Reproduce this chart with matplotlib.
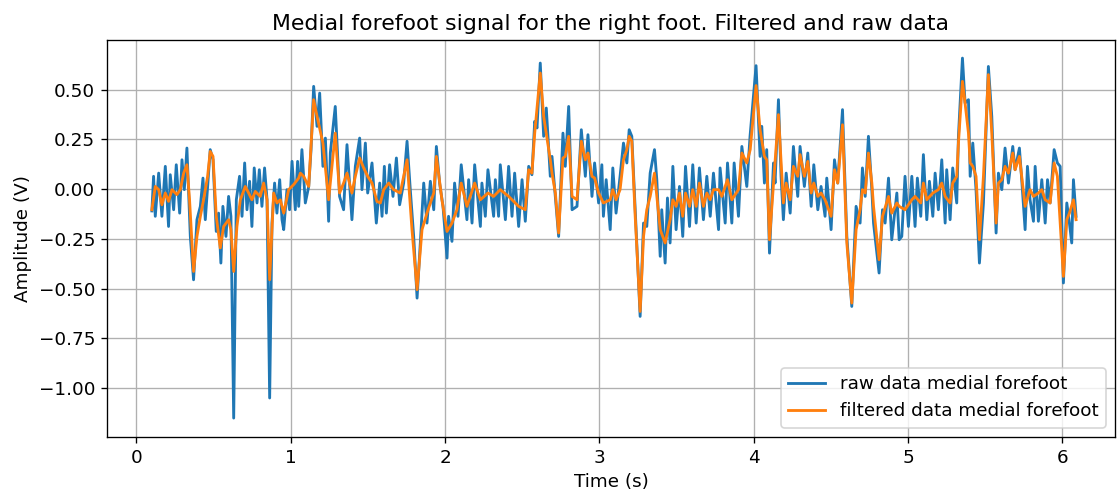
import matplotlib

matplotlib.use("Agg")
import matplotlib.pyplot as plt

# raw medial forefoot signal (s, V)
raw_time = [
    0.101, 0.112, 0.123, 0.145, 0.166, 0.188, 0.209, 0.220, 0.242, 0.259,
    0.281, 0.296, 0.311, 0.328, 0.350, 0.371, 0.393, 0.415, 0.432, 0.447,
    0.479, 0.497, 0.518, 0.533, 0.548, 0.561, 0.581, 0.598, 0.613, 0.631,
    0.648, 0.669, 0.685, 0.702, 0.717, 0.734, 0.749, 0.764, 0.782, 0.797,
    0.814, 0.831, 0.847, 0.864, 0.879, 0.896, 0.911, 0.929, 0.944, 0.955,
    0.976, 0.993, 1.009, 1.030, 1.045, 1.052, 1.073, 1.095, 1.117, 1.132,
    1.149, 1.171, 1.188, 1.209, 1.225, 1.246, 1.257, 1.289, 1.317, 1.343,
    1.365, 1.397, 1.419, 1.447, 1.462, 1.484, 1.499, 1.527, 1.555, 1.577,
    1.592, 1.607, 1.620, 1.641, 1.663, 1.685, 1.706, 1.732, 1.754, 1.775,
    1.797, 1.819, 1.840, 1.862, 1.883, 1.905, 1.927, 1.944, 1.965, 1.987,
    2.013, 2.023, 2.045, 2.062, 2.084, 2.105, 2.142, 2.153, 2.175, 2.192,
    2.229, 2.239, 2.261, 2.278, 2.315, 2.326, 2.347, 2.358, 2.391, 2.412,
    2.434, 2.451, 2.477, 2.499, 2.520, 2.542, 2.563, 2.581, 2.596, 2.617,
    2.639, 2.656, 2.682, 2.693, 2.736, 2.764, 2.779, 2.801, 2.823, 2.855,
    2.883, 2.909, 2.926, 2.952, 2.969, 2.995, 3.016, 3.026, 3.044, 3.070,
    3.087, 3.108, 3.134, 3.156, 3.178, 3.193, 3.210, 3.232, 3.264, 3.286,
    3.307, 3.329, 3.357, 3.372, 3.394, 3.404, 3.426, 3.441, 3.458, 3.476,
    3.497, 3.519, 3.540, 3.558, 3.584, 3.605, 3.627, 3.648, 3.674, 3.696,
    3.718, 3.739, 3.772, 3.782, 3.815, 3.830, 3.858, 3.873, 3.901, 3.923,
    3.955, 3.976, 4.015, 4.041, 4.052, 4.069, 4.084, 4.102, 4.128, 4.138,
    4.160, 4.177, 4.192, 4.210, 4.236, 4.257, 4.285, 4.300, 4.328, 4.350,
    4.372, 4.389, 4.415, 4.436, 4.462, 4.473, 4.501, 4.523, 4.544, 4.575,
    4.603, 4.635, 4.663, 4.689, 4.704, 4.722, 4.743, 4.765, 4.776, 4.812,
    4.834, 4.851, 4.873, 4.894, 4.927, 4.942, 4.959, 4.980, 5.002, 5.024,
    5.045, 5.060, 5.082, 5.099, 5.121, 5.138, 5.160, 5.175, 5.196, 5.218,
    5.240, 5.250, 5.272, 5.289, 5.315, 5.326, 5.352, 5.369, 5.391, 5.402,
    5.419, 5.440, 5.462, 5.488, 5.520, 5.542, 5.570, 5.585, 5.607, 5.628,
    5.650, 5.678, 5.693, 5.721, 5.736, 5.758, 5.773, 5.790, 5.812, 5.823,
    5.844, 5.866, 5.888, 5.903, 5.920, 5.946, 5.967, 5.985, 6.006, 6.028,
    6.045, 6.060, 6.071, 6.088,
]
raw_amp = [
    -0.110, 0.064, -0.137, 0.080, -0.137, 0.114, -0.188, 0.072, -0.104, 0.122,
    -0.121, 0.147, -0.003, 0.206, -0.238, -0.456, -0.154, -0.087, 0.055, -0.154,
    0.198, 0.147, -0.213, -0.121, -0.372, -0.087, -0.238, -0.037, -0.137, -1.151,
    -0.054, 0.064, -0.137, 0.131, -0.104, 0.039, -0.188, 0.106, -0.070, 0.097,
    -0.087, 0.106, -0.054, -1.050, -0.171, 0.030, -0.121, 0.047, -0.154, -0.204,
    -0.003, -0.104, 0.139, -0.104, 0.139, -0.087, 0.198, -0.070, 0.013, 0.198,
    0.516, 0.315, 0.482, 0.114, 0.256, -0.162, 0.181, 0.415, -0.037, -0.104,
    0.223, -0.154, 0.114, 0.256, -0.003, 0.231, -0.020, 0.131, -0.171, 0.030,
    -0.137, 0.114, -0.121, 0.122, -0.037, 0.156, -0.079, 0.030, 0.240, -0.003,
    -0.238, -0.548, -0.271, 0.030, -0.171, 0.039, -0.104, 0.214, 0.030, -0.087,
    -0.347, -0.137, -0.263, 0.030, -0.137, 0.122, -0.154, 0.047, -0.171, 0.122,
    -0.188, 0.030, -0.137, 0.097, -0.137, 0.047, -0.137, 0.122, -0.154, 0.114,
    -0.137, 0.080, -0.188, 0.047, -0.162, 0.114, 0.072, 0.340, 0.307, 0.633,
    0.265, 0.407, 0.064, 0.164, -0.238, 0.281, 0.114, 0.415, -0.104, -0.087,
    0.298, 0.064, 0.273, -0.037, 0.131, -0.070, 0.122, -0.137, 0.047, -0.204,
    0.106, -0.121, 0.064, 0.231, 0.131, 0.298, 0.265, -0.104, -0.640, -0.171,
    -0.188, 0.080, 0.198, 0.047, -0.338, -0.104, -0.372, -0.045, -0.271, 0.114,
    -0.204, 0.013, -0.238, 0.114, -0.188, 0.122, -0.171, 0.106, -0.154, 0.064,
    -0.137, 0.080, -0.204, 0.106, -0.171, 0.131, -0.171, 0.131, -0.137, 0.214,
    0.013, 0.265, 0.620, 0.164, 0.315, 0.030, 0.198, -0.322, 0.131, 0.030,
    0.449, 0.064, -0.154, 0.080, -0.121, 0.214, -0.037, 0.214, 0.013, 0.181,
    -0.087, 0.122, -0.104, 0.013, -0.137, 0.055, -0.204, 0.147, 0.030, 0.399,
    -0.238, -0.590, -0.087, -0.171, 0.106, -0.037, 0.265, -0.003, -0.171, -0.422,
    -0.104, -0.171, 0.055, -0.255, -0.020, -0.255, -0.238, 0.064, -0.188, 0.064,
    -0.188, 0.055, -0.137, 0.173, -0.154, 0.039, -0.137, 0.080, -0.104, 0.147,
    -0.171, 0.097, -0.154, 0.106, -0.070, 0.265, 0.658, 0.432, 0.449, 0.064,
    0.231, -0.003, -0.372, -0.070, 0.616, 0.365, -0.221, 0.080, -0.003, 0.206,
    0.030, 0.214, 0.097, 0.206, 0.047, -0.204, 0.114, -0.054, -0.162, 0.114,
    -0.162, 0.047, -0.171, 0.047, -0.070, 0.198, 0.131, 0.114, -0.472, -0.070,
    -0.171, -0.271, 0.047, -0.137,
]

# filtered medial forefoot signal (s, V)
filt_time = [
    0.101, 0.123, 0.145, 0.166, 0.188, 0.209, 0.231, 0.263, 0.285, 0.307,
    0.328, 0.345, 0.371, 0.393, 0.415, 0.436, 0.462, 0.479, 0.497, 0.518,
    0.544, 0.566, 0.598, 0.613, 0.631, 0.652, 0.674, 0.706, 0.728, 0.749,
    0.771, 0.803, 0.825, 0.847, 0.864, 0.890, 0.911, 0.933, 0.955, 0.987,
    1.019, 1.052, 1.063, 1.084, 1.117, 1.149, 1.171, 1.209, 1.246, 1.289,
    1.317, 1.343, 1.365, 1.397, 1.419, 1.447, 1.473, 1.499, 1.527, 1.559,
    1.581, 1.603, 1.635, 1.667, 1.710, 1.754, 1.786, 1.819, 1.851, 1.883,
    1.927, 1.944, 1.980, 2.013, 2.045, 2.077, 2.105, 2.142, 2.192, 2.229,
    2.278, 2.315, 2.358, 2.412, 2.477, 2.520, 2.542, 2.563, 2.581, 2.617,
    2.639, 2.682, 2.693, 2.715, 2.736, 2.764, 2.779, 2.801, 2.823, 2.855,
    2.883, 2.909, 2.926, 2.952, 2.969, 2.995, 3.026, 3.070, 3.087, 3.108,
    3.134, 3.156, 3.178, 3.193, 3.210, 3.232, 3.264, 3.286, 3.307, 3.329,
    3.357, 3.394, 3.426, 3.458, 3.476, 3.497, 3.519, 3.540, 3.558, 3.584,
    3.605, 3.627, 3.648, 3.674, 3.696, 3.718, 3.739, 3.772, 3.793, 3.830,
    3.858, 3.901, 3.923, 3.955, 3.977, 4.015, 4.041, 4.069, 4.084, 4.102,
    4.128, 4.160, 4.192, 4.210, 4.236, 4.257, 4.285, 4.300, 4.328, 4.350,
    4.372, 4.389, 4.415, 4.436, 4.462, 4.501, 4.523, 4.544, 4.575, 4.603,
    4.635, 4.663, 4.689, 4.704, 4.722, 4.743, 4.765, 4.776, 4.812, 4.834,
    4.873, 4.894, 4.927, 4.942, 4.980, 5.024, 5.045, 5.082, 5.099, 5.121,
    5.160, 5.196, 5.218, 5.240, 5.272, 5.289, 5.315, 5.326, 5.352, 5.369,
    5.391, 5.402, 5.419, 5.440, 5.462, 5.488, 5.520, 5.542, 5.570, 5.585,
    5.607, 5.628, 5.650, 5.678, 5.693, 5.721, 5.758, 5.790, 5.812, 5.844,
    5.866, 5.888, 5.920, 5.946, 5.967, 6.006, 6.028, 6.045, 6.071, 6.088,
]
filt_amp = [
    -0.104, 0.013, -0.003, -0.079, -0.020, -0.062, -0.003, -0.028, -0.003, 0.080,
    0.122, -0.054, -0.414, -0.238, -0.137, -0.054, 0.064, 0.189, 0.164, -0.137,
    -0.296, -0.188, -0.154, -0.204, -0.414, -0.188, -0.054, 0.013, -0.020, -0.054,
    -0.012, -0.037, 0.030, -0.054, -0.456, -0.020, -0.070, -0.054, -0.121, -0.003,
    0.022, 0.055, 0.080, 0.064, 0.013, 0.449, 0.365, 0.231, -0.054, 0.281,
    -0.020, 0.030, 0.080, -0.020, 0.064, 0.156, 0.106, 0.064, 0.030, -0.062,
    -0.070, -0.003, 0.030, -0.003, -0.020, 0.147, -0.204, -0.506, -0.204, -0.121,
    -0.020, 0.164, -0.054, -0.213, -0.171, -0.104, 0.030, -0.087, 0.030, -0.054,
    -0.020, -0.037, -0.003, -0.037, -0.087, -0.104, 0.097, 0.080, 0.281, 0.583,
    0.365, 0.147, 0.080, -0.020, -0.221, 0.156, 0.164, 0.265, -0.037, -0.054,
    0.240, 0.147, 0.181, 0.064, 0.055, -0.020, -0.070, -0.054, -0.003, -0.054,
    -0.003, 0.147, 0.198, 0.265, 0.240, -0.137, -0.615, -0.238, -0.104, -0.037,
    0.080, -0.204, -0.271, -0.154, -0.054, -0.087, -0.020, -0.137, -0.020, -0.087,
    -0.003, -0.087, 0.030, -0.087, -0.020, -0.054, -0.003, -0.003, -0.037, 0.047,
    -0.054, -0.003, 0.181, 0.131, 0.198, 0.520, 0.298, 0.164, 0.147, -0.255,
    0.030, 0.374, -0.070, 0.030, -0.054, 0.114, 0.064, 0.173, 0.064, 0.139,
    -0.020, 0.030, -0.037, -0.020, -0.054, -0.137, 0.097, 0.030, 0.323, -0.271,
    -0.573, -0.204, -0.104, -0.003, -0.020, 0.181, 0.030, -0.087, -0.355, -0.137,
    -0.037, -0.121, -0.070, -0.087, -0.104, -0.054, -0.037, -0.070, 0.030, -0.054,
    -0.020, -0.003, 0.030, -0.037, -0.070, 0.030, 0.064, 0.231, 0.541, 0.432,
    0.281, 0.131, 0.114, 0.064, -0.255, 0.064, 0.575, 0.281, -0.171, 0.030,
    0.047, 0.114, 0.080, 0.181, 0.097, 0.164, -0.087, -0.003, -0.037, -0.020,
    -0.003, -0.054, -0.070, 0.131, 0.064, -0.439, -0.154, -0.121, -0.054, -0.154,
]

plt.rcParams.update({
    "font.size": 11,
    "axes.titlesize": 13.2,
    "axes.labelsize": 11,
    "xtick.labelsize": 11,
    "ytick.labelsize": 11,
    "legend.fontsize": 11,
})

fig = plt.figure(figsize=(1120 / 120, 498 / 120), dpi=120)
ax = fig.add_axes([0.0955, 0.1225, 0.9, 0.7972])

ax.plot(raw_time, raw_amp, linewidth=1.7, label="raw data medial forefoot")
ax.plot(filt_time, filt_amp, linewidth=1.7, label="filtered data medial forefoot")

ax.set_xlim(-0.19, 6.34)
ax.set_ylim(-1.246, 0.749)
ax.set_title("Medial forefoot signal for the right foot. Filtered and raw data")
ax.set_xlabel("Time (s)")
ax.set_ylabel("Amplitude (V)")
ax.grid(True)
ax.legend(loc="lower right")

fig.savefig("out.png", dpi=120)
